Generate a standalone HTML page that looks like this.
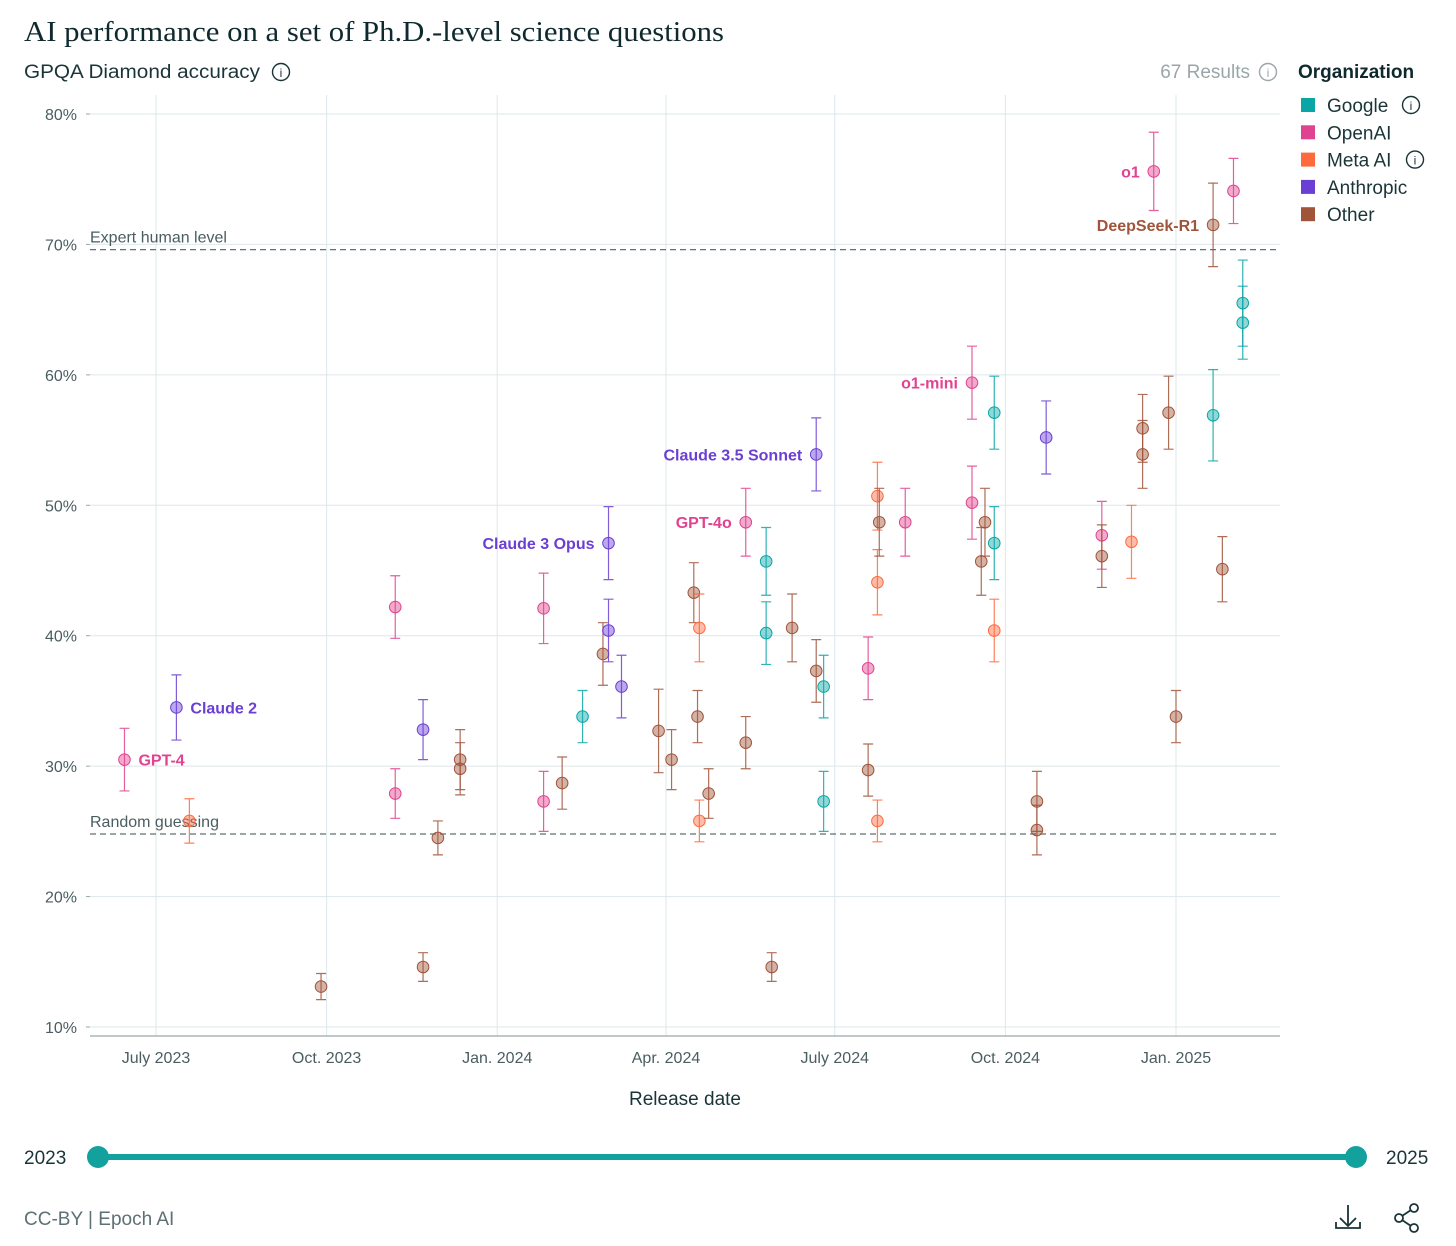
<!DOCTYPE html>
<html><head><meta charset="utf-8"><style>
html,body{margin:0;padding:0;background:#fff;}
body{width:1456px;height:1241px;overflow:hidden;font-family:"Liberation Sans",sans-serif;}
svg text{font-family:"Liberation Sans",sans-serif;}
</style></head><body>
<svg id="chart" width="1456" height="1241" viewBox="0 0 1456 1241">
<text x="24" y="41" font-size="28" fill="#0f2a2e" textLength="700" lengthAdjust="spacingAndGlyphs" style="font-family:'Liberation Serif',serif;font-weight:normal">AI performance on a set of Ph.D.-level science questions</text>
<text x="24" y="78" font-size="19" fill="#1a3438" textLength="236" lengthAdjust="spacingAndGlyphs">GPQA Diamond accuracy</text>
<g><circle cx="281" cy="72" r="8.5" fill="none" stroke="#1a3438" stroke-width="1.4"/><text x="281" y="77" font-size="12" text-anchor="middle" fill="#1a3438">i</text></g>
<text x="1250" y="78" font-size="19" fill="#9aa6a8" text-anchor="end">67 Results</text>
<g><circle cx="1268" cy="72" r="8.5" fill="none" stroke="#9aa6a8" stroke-width="1.4"/><text x="1268" y="77" font-size="12" text-anchor="middle" fill="#9aa6a8">i</text></g>
<g id="plot"></g>
<g id="legend"></g>
<text x="685" y="1105" font-size="19" text-anchor="middle" fill="#1a3438">Release date</text>
<text x="24" y="1164" font-size="19" fill="#1a3438">2023</text>
<text x="1386" y="1164" font-size="19" fill="#1a3438">2025</text>
<line x1="98" y1="1157" x2="1356" y2="1157" stroke="#12a19d" stroke-width="6"/>
<circle cx="98" cy="1157" r="11" fill="#12a19d"/>
<circle cx="1356" cy="1157" r="11" fill="#12a19d"/>
<text x="24" y="1225" font-size="19" fill="#5d7073">CC-BY | Epoch AI</text>
<g fill="none" stroke="#1a3438" stroke-width="1.8"><path d="M1348 1205v20M1340 1218l8 8 8-8M1336 1222v6h24v-6"/></g>
<g fill="none" stroke="#1a3438" stroke-width="1.8"><circle cx="1414" cy="1208" r="4"/><circle cx="1399" cy="1218" r="4"/><circle cx="1414" cy="1228" r="4"/><path d="M1402 1216l9-6M1402 1220l9 6"/></g>
</svg>
<script>
const orgs=["Google","OpenAI","Meta AI","Anthropic","Other"];
const orgColors=["#0aa6a6","#e0438f","#ff6a3d","#6b3fd4","#a0543a"];
const dates=["2023-06-14","2023-07-12","2023-07-19","2023-09-28","2023-11-07","2023-11-07","2023-11-22","2023-11-22","2023-11-30","2023-12-12","2023-12-12","2024-01-26","2024-01-26","2024-02-05","2024-02-16","2024-02-27","2024-03-01","2024-03-01","2024-03-08","2024-03-28","2024-04-04","2024-04-16","2024-04-18","2024-04-19","2024-04-19","2024-04-24","2024-05-14","2024-05-14","2024-05-25","2024-05-25","2024-05-28","2024-06-08","2024-06-21","2024-06-21","2024-06-25","2024-06-25","2024-07-19","2024-07-19","2024-07-24","2024-07-24","2024-07-24","2024-07-25","2024-08-08","2024-09-13","2024-09-13","2024-09-18","2024-09-20","2024-09-25","2024-09-25","2024-09-25","2024-10-18","2024-10-18","2024-10-23","2024-11-22","2024-11-22","2024-12-08","2024-12-14","2024-12-14","2024-12-20","2024-12-28","2025-01-01","2025-01-21","2025-01-21","2025-01-26","2025-02-01","2025-02-06","2025-02-06"];
const accuracy=[30.5,34.5,25.8,13.1,42.2,27.9,32.8,14.6,24.5,30.5,29.8,42.1,27.3,28.7,33.8,38.6,47.1,40.4,36.1,32.7,30.5,43.3,33.8,40.6,25.8,27.9,48.7,31.8,45.7,40.2,14.6,40.6,53.9,37.3,36.1,27.3,37.5,29.7,50.7,44.1,25.8,48.7,48.7,59.4,50.2,45.7,48.7,57.1,47.1,40.4,27.3,25.1,55.2,47.7,46.1,47.2,55.9,53.9,75.6,57.1,33.8,71.5,56.9,45.1,74.1,65.5,64.0];
const errors=[2.4,2.5,1.7,1.0,2.4,1.9,2.3,1.1,1.3,2.3,2.0,2.7,2.3,2.0,2.0,2.4,2.8,2.4,2.4,3.2,2.3,2.3,2.0,2.6,1.6,1.9,2.6,2.0,2.6,2.4,1.1,2.6,2.8,2.4,2.4,2.3,2.4,2.0,2.6,2.5,1.6,2.6,2.6,2.8,2.8,2.6,2.6,2.8,2.8,2.4,2.3,1.9,2.8,2.6,2.4,2.8,2.6,2.6,3.0,2.8,2.0,3.2,3.5,2.5,2.5,3.3,2.8];
const orgIndex=[1,3,2,4,1,1,3,4,4,4,4,1,1,4,0,4,3,3,3,4,4,4,4,2,2,4,1,4,0,0,4,4,3,4,0,0,1,4,2,2,2,4,1,1,1,4,4,0,0,2,4,4,3,1,4,2,4,4,1,4,4,4,0,4,1,0,0];
const labelNames=["GPT-4","Claude 2","Claude 3 Opus","GPT-4o","Claude 3.5 Sonnet","o1-mini","o1","DeepSeek-R1"];
const labelPoints=[0,1,16,26,32,43,58,61];
const labelSides=["right","right","left","left","left","left","left","left"];
const yTicks=[10,20,30,40,50,60,70,80];
const xTickDates=["2023-07-01","2023-10-01","2024-01-01","2024-04-01","2024-07-01","2024-10-01","2025-01-01"];
const xTickLabels=["July 2023","Oct. 2023","Jan. 2024","Apr. 2024","July 2024","Oct. 2024","Jan. 2025"];
const refValues=[69.6,24.8];
const refLabels=["Expert human level","Random guessing"];

const NS="http://www.w3.org/2000/svg";
const plot=document.getElementById('plot');
const legend=document.getElementById('legend');
const d0=Date.UTC(2023,6,1), d1=Date.UTC(2025,0,1);
function xScale(s){const p=s.split('-').map(Number);const t=Date.UTC(p[0],p[1]-1,p[2]);return 156+(t-d0)/(d1-d0)*1020;}
function yScale(v){return 114+(80-v)*13.043;}
function el(tag,attrs,parent){const e=document.createElementNS(NS,tag);for(const k in attrs)e.setAttribute(k,attrs[k]);parent.appendChild(e);return e;}

yTicks.forEach(v=>{const y=yScale(v);
 const g=el('line',{x1:90,x2:1280,y1:y,y2:y,stroke:'#dde7ea','stroke-width':1},plot);
 
 
 const tk=el('line',{x1:86,x2:90,y1:y,y2:y,stroke:'#9aa6a8'},plot);
 
 
 const t=el('text',{x:77,y:y+6,'font-size':16,'text-anchor':'end',fill:'#4a5d60'},plot);t.textContent=v+'%';
 
 
});
xTickDates.forEach((d,i)=>{const x=xScale(d);
 const g=el('line',{x1:x,x2:x,y1:95,y2:1036,stroke:'#dde7ea','stroke-width':1},plot);
 
 
 const t=el('text',{x:x,y:1063,'font-size':16,'text-anchor':'middle',fill:'#4a5d60'},plot);t.textContent=xTickLabels[i];
 
 
});
const ax=el('line',{x1:90,x2:1280,y1:1036,y2:1036,stroke:'#9aa6a8','stroke-width':1.2},plot);


refValues.forEach((v,i)=>{const y=yScale(v);
 const l=el('line',{x1:90,x2:1280,y1:y,y2:y,stroke:'#5d7073','stroke-width':1.3,'stroke-dasharray':'6 4'},plot);
 
 
 const t=el('text',{x:90,y:y-7,'font-size':16,fill:'#4a5d60'},plot);t.textContent=refLabels[i];
 
 
});
dates.forEach((d,i)=>{const x=xScale(d),y=yScale(accuracy[i]),c=orgColors[orgIndex[i]];
 const g=el('g',{},plot);
 
 
 const y1=yScale(accuracy[i]+errors[i]),y2=yScale(accuracy[i]-errors[i]);
 el('path',{d:`M${x} ${y1}V${y2}M${x-5} ${y1}H${x+5}M${x-5} ${y2}H${x+5}`,stroke:c,'stroke-width':1.2,fill:'none','stroke-opacity':0.85},g);
 el('circle',{cx:x,cy:y,r:5.8,fill:c,'fill-opacity':0.45,stroke:c,'stroke-width':1},g);
});
labelPoints.forEach((p,i)=>{const x=xScale(dates[p]),y=yScale(accuracy[p]);const c=orgColors[orgIndex[p]];
 const right=labelSides[i]==='right';
 const t=el('text',{x:right?x+14:x-14,y:y+6,'font-size':16,'font-weight':'bold','text-anchor':right?'start':'end',fill:c},plot);
 t.textContent=labelNames[i];
 
 
});
const lt=el('text',{x:1298,y:78,'font-size':19,'font-weight':'bold',fill:'#0f2a2e'},legend);lt.textContent='Organization';


orgs.forEach((o,i)=>{const y=105+i*27.3;
 const g=el('g',{},legend);
 
 
 el('rect',{x:1301,y:y-7,width:14,height:14,fill:orgColors[i]},g);
 const t=el('text',{x:1327,y:y+7,'font-size':19,fill:'#1a3438'},g);t.textContent=o;
 if(o==='Google'||o==='Meta AI'){const cx=o==='Google'?1411:1415;
  el('circle',{cx:cx,cy:y,r:8.5,fill:'none',stroke:'#1a3438','stroke-width':1.4},g);
  const ti=el('text',{x:cx,y:y+5,'font-size':12,'text-anchor':'middle',fill:'#1a3438'},g);ti.textContent='i';}
});
</script>
</body></html>
